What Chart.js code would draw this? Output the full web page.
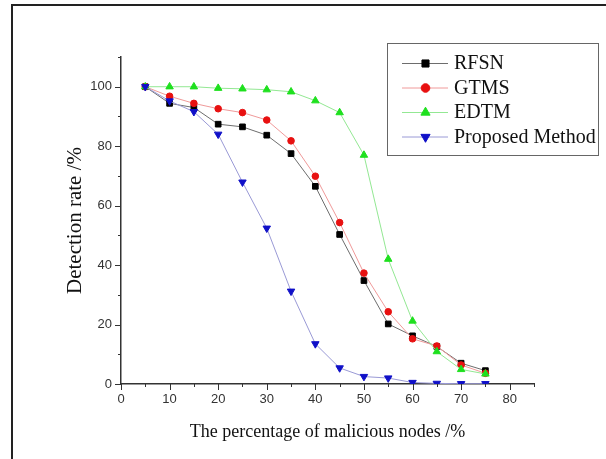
<!DOCTYPE html>
<html>
<head>
<meta charset="utf-8">
<script src="https://cdn.jsdelivr.net/npm/chart.js@4.4.1/dist/chart.umd.min.js"></script>
<style>
  body { margin: 0; background: #fff; }
  canvas { display: block; }
</style>
</head>
<body>
<canvas id="rateChart" width="606" height="459"></canvas>
<script>
var xValues = [5, 10, 15, 20, 25, 30, 35, 40, 45, 50, 55, 60, 65, 70, 75];
var rfsn = [100, 94.4, 93.0, 87.4, 86.5, 83.7, 77.5, 66.5, 50.3, 34.8, 20.2, 16.2, 12.6, 7.0, 4.5];
var gtms = [100, 96.8, 94.4, 92.6, 91.3, 88.8, 81.8, 69.9, 54.3, 37.3, 24.3, 15.2, 12.8, 6.4, 3.6];
var edtm = [100, 100, 100, 99.5, 99.3, 99.0, 98.3, 95.3, 91.3, 77.0, 42.0, 21.2, 10.9, 4.9, 3.4];
var proposed = [100, 95.2, 91.6, 84.0, 67.9, 52.4, 31.2, 13.5, 5.4, 2.5, 2.0, 0.5, 0.2, 0.1, 0.1];
var seriesNames = ["RFSN", "GTMS", "EDTM", "Proposed Method"];

var toPoints = function(values) {
    return values.map(function(v, i) { return {x: xValues[i], y: v}; });
};

// frame lines at top and left of the picture
var framePlugin = {
    id: 'frame',
    beforeDraw: function(chart) {
        var ctx = chart.ctx;
        ctx.save();
        ctx.fillStyle = '#fff';
        ctx.fillRect(0, 0, chart.width, chart.height);
        ctx.strokeStyle = '#222';
        ctx.lineWidth = 2;
        ctx.beginPath();
        ctx.moveTo(12, 459);
        ctx.lineTo(12, 5);
        ctx.lineTo(606, 5);
        ctx.stroke();
        ctx.restore();
    }
};

// major / minor tick marks, drawn outward
var tickPlugin = {
    id: 'ticks',
    afterDraw: function(chart) {
        var ctx = chart.ctx;
        var xs = chart.scales.x, ys = chart.scales.y;
        var area = chart.chartArea;
        ctx.save();
        ctx.strokeStyle = '#333';
        ctx.lineWidth = 1;
        ctx.beginPath();
        xs.ticks.forEach(function(t) {
            var px = Math.round(xs.getPixelForValue(t.value)) + 0.5;
            var len = (t.value % 10 === 0) ? 6 : 3;
            ctx.moveTo(px, area.bottom);
            ctx.lineTo(px, area.bottom + len);
        });
        ys.ticks.forEach(function(t) {
            var py = Math.round(ys.getPixelForValue(t.value)) + 0.5;
            var len = (t.value % 20 === 0) ? 6 : 3;
            ctx.moveTo(area.left, py);
            ctx.lineTo(area.left - len, py);
        });
        ctx.stroke();
        ctx.restore();
    }
};

var legendPlugin = {
    id: 'boxLegend',
    afterDraw: function(chart) {
        var ctx = chart.ctx;
        ctx.save();
        ctx.strokeStyle = '#666';
        ctx.lineWidth = 1;
        ctx.strokeRect(387.5, 43.5, 211, 112);
        ctx.font = '20px "Liberation Serif"';
        ctx.textBaseline = 'middle';
        chart.data.datasets.forEach(function(ds, i) {
            var y = 63 + i * 24.5;
            ctx.strokeStyle = ds.borderColor;
            ctx.lineWidth = 1;
            ctx.beginPath();
            ctx.moveTo(402, y + 0.5);
            ctx.lineTo(448, y + 0.5);
            ctx.stroke();
            ctx.fillStyle = ds.pointBackgroundColor;
            ctx.strokeStyle = ds.pointBorderColor;
            Chart.helpers.drawPoint(ctx, {
                pointStyle: ds.pointStyle,
                rotation: ds.pointRotation || 0,
                radius: ds.pointRadius + 1,
                borderWidth: 1
            }, 425.5, y + 0.5);
            ctx.fillStyle = '#111';
            ctx.fillText(ds.label, 454, y + 1);
        });
        ctx.restore();
    }
};

var ctx = document.getElementById("rateChart").getContext('2d');
Chart.defaults.font.family = '"Liberation Sans", Arial, sans-serif';

var myChart = new Chart(ctx, {
    type: 'line',
    data: {
        datasets: [{
            label: seriesNames[0],
            data: toPoints(rfsn),
            borderColor: 'rgba(60,60,60,0.75)',
            pointBackgroundColor: '#000',
            pointBorderColor: '#000',
            pointStyle: 'rect',
            pointRadius: 4,
            borderWidth: 1,
            order: 4
        }, {
            label: seriesNames[1],
            data: toPoints(gtms),
            borderColor: '#f09a9a',
            pointBackgroundColor: '#e81010',
            pointBorderColor: '#e81010',
            pointStyle: 'circle',
            pointRadius: 3.3,
            borderWidth: 1,
            order: 3
        }, {
            label: seriesNames[2],
            data: toPoints(edtm),
            borderColor: '#93e893',
            pointBackgroundColor: '#1ee01e',
            pointBorderColor: '#1ee01e',
            pointStyle: 'triangle',
            pointRadius: 4.3,
            borderWidth: 1,
            order: 2
        }, {
            label: seriesNames[3],
            data: toPoints(proposed),
            borderColor: '#9a9ad6',
            pointBackgroundColor: '#1010c8',
            pointBorderColor: '#1010c8',
            pointStyle: 'triangle',
            pointRotation: 180,
            pointRadius: 4.3,
            borderWidth: 1,
            order: 1
        }]
    },
    options: {
        responsive: false,
        animation: false,
        layout: { padding: { left: 0, top: 57, right: 72, bottom: 0 } },
        plugins: {
            legend: { display: false },
            tooltip: { enabled: false }
        },
        scales: {
            x: {
                type: 'linear',
                min: 0,
                max: 85,
                afterFit: function(scale) { scale.height = 75; },
                border: { display: true, color: '#333', width: 1.5 },
                grid: { display: true, drawOnChartArea: false, tickLength: 6, color: 'rgba(0,0,0,0)' },
                ticks: {
                    stepSize: 5,
                    autoSkip: false,
                    maxRotation: 0,
                    color: '#333',
                    font: { size: 13 },
                    padding: 2,
                    callback: function(v) { return v % 10 === 0 ? v : ''; }
                },
                title: {
                    display: true,
                    text: 'The percentage of malicious nodes /%',
                    color: '#111',
                    font: { family: '"Liberation Serif"', size: 18 },
                    padding: { top: 0, bottom: 16 }
                }
            },
            y: {
                min: 0,
                max: 110,
                afterFit: function(scale) { scale.width = 121; },
                border: { display: true, color: '#333', width: 1.5 },
                grid: { display: true, drawOnChartArea: false, tickLength: 6, color: 'rgba(0,0,0,0)' },
                ticks: {
                    stepSize: 10,
                    autoSkip: false,
                    color: '#333',
                    font: { size: 13 },
                    padding: 3,
                    callback: function(v) { return (v % 20 === 0 && v <= 100) ? v : ''; }
                },
                title: {
                    display: true,
                    text: 'Detection rate /%',
                    color: '#111',
                    font: { family: '"Liberation Serif"', size: 21 },
                    padding: { top: 63, bottom: 0 }
                }
            }
        }
    },
    plugins: [framePlugin, tickPlugin, legendPlugin]
});
</script>
</body>
</html>
